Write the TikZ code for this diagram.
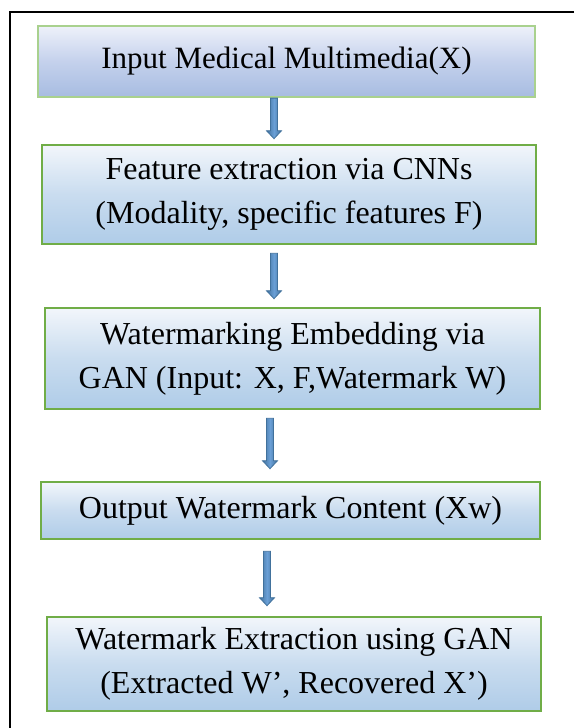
\documentclass[tikz,border=0pt]{standalone}
\usepackage{fontspec}
\setmainfont{Liberation Serif}
\usetikzlibrary{calc}

\definecolor{boxgreen}{HTML}{70AD47}
\definecolor{palegreen}{HTML}{A9D18E}
\definecolor{boxtop}{HTML}{F2F6FB}
\definecolor{boxmid}{HTML}{C9DCEF}
\definecolor{boxbot}{HTML}{AFCCE8}
\definecolor{firsttop}{HTML}{EEF1FA}
\definecolor{firstmid}{HTML}{C4D1EC}
\definecolor{firstbot}{HTML}{A7BCE1}
\definecolor{arrowedge}{HTML}{41719C}
\definecolor{arrowcore}{HTML}{6A9FD6}

\tikzset{
  x=1pt, y=-1pt,
  stepbox/.style={draw=boxgreen, line width=2.6pt, rectangle,
    top color=boxtop, bottom color=boxbot, middle color=boxmid,
    align=center, inner sep=0pt,
    font=\fontsize{32}{44}\selectfont},
  firstbox/.style={stepbox, draw=palegreen, line width=2.2pt,
    top color=firsttop, bottom color=firstbot, middle color=firstmid,
    font=\fontsize{31}{42}\selectfont},
  % block arrow: shaft 7pt wide, head 15pt wide and 8pt long
  flowarrow/.style={draw=arrowedge, line width=0.8pt,
    left color=arrowedge, right color=arrowedge, middle color=arrowcore,
    to path={let \p1=(\tikztostart), \p2=(\tikztotarget) in
      (\x1-3.5pt,\y1) -- (\x1+3.5pt,\y1) -- (\x1+3.5pt,\y2+8pt)
      -- (\x1+7.5pt,\y2+8pt) -- (\x1,\y2) -- (\x1-7.5pt,\y2+8pt)
      -- (\x1-3.5pt,\y2+8pt) -- cycle}},
  frameline/.style={draw=black, line width=2pt}
}

\begin{document}
\begin{tikzpicture}
\useasboundingbox (0,0) rectangle (574,728);

% outer frame (left and top edges)
\draw[frameline] (574,12) -- (10,12) -- (10,728);

% process steps
\node[firstbox, minimum width=497pt, minimum height=71pt] (b1) at (286.5,61.5)
  {Input Medical Multimedia(X)};
\node[stepbox, minimum width=494pt, minimum height=99pt] (b2) at (289,194.5)
  {Feature extraction via CNNs\\(Modality, specific features F)};
\node[stepbox, minimum width=495pt, minimum height=101pt] (b3) at (292.5,358.5)
  {Watermarking Embedding via\\GAN (Input: X, F,Watermark W)};
\node[stepbox, minimum width=499pt, minimum height=57pt] (b4) at (290.5,510.5)
  {Output Watermark Content (Xw)};
\node[stepbox, minimum width=494pt, minimum height=94pt] (b5) at (294,664)
  {Watermark Extraction using GAN\\(Extracted W’, Recovered X’)};

% connectors (shifts are in page direction: negative moves down)
\path[flowarrow] ([xshift=-12.5pt,yshift=0pt]b1.south) to ([yshift=5pt]b2.north);
\path[flowarrow] ([xshift=-15pt,yshift=-8pt]b2.south) to ([yshift=8pt]b3.north);
\path[flowarrow] ([xshift=-22.5pt,yshift=-8pt]b3.south) to ([yshift=12pt]b4.north);
\path[flowarrow] ([xshift=-23.5pt,yshift=-11pt]b4.south) to ([yshift=10pt]b5.north);
\end{tikzpicture}
\end{document}
